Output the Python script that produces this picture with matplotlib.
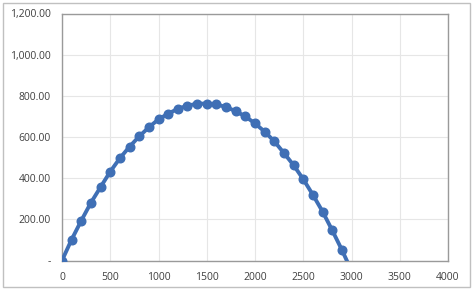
import numpy as np
import matplotlib.pyplot as plt
from matplotlib.patches import Rectangle
from matplotlib.ticker import FuncFormatter

# distance (x) and height (y) of the trajectory
distance = [0, 100, 200, 300, 400, 500, 600, 700, 800, 900, 1000, 1100, 1200, 1300, 1400,
            1500, 1600, 1700, 1800, 1900, 2000, 2100, 2200, 2300, 2400, 2500, 2600, 2700,
            2800, 2900, 3000]
height = [0, 102, 194, 281, 357, 432, 497, 553, 603, 647, 686, 713, 737, 752, 762,
          762, 758, 746, 725, 700, 666, 626, 579, 522, 463, 395, 319, 238,
          147, 52, -50]

x_ticks = [0, 500, 1000, 1500, 2000, 2500, 3000, 3500, 4000]
y_ticks = [0, 200, 400, 600, 800, 1000, 1200]

plt.rcParams['font.family'] = ['Open Sans', 'DejaVu Sans']

fig = plt.figure(figsize=(4.74, 2.90), dpi=100)
fig.patch.set_facecolor('white')

# chart area frame
fig.patches.append(Rectangle((3 / 474, 3 / 290), 467 / 474, 284 / 290, transform=fig.transFigure,
                             fill=False, edgecolor='#c0c0c0', linewidth=1.0))

ax = fig.add_axes([62 / 474, 1 - 260.5 / 290, (448 - 62) / 474, (260.5 - 13.5) / 290])
ax.plot(distance, height, color='#3f6fb5', linewidth=2.8, marker='o', markersize=6.2,
        markerfacecolor='#3f6fb5', markeredgecolor='#3f6fb5', zorder=3)

ax.set_xlim(0, 4000)
ax.set_ylim(0, 1200)
ax.set_xticks(x_ticks)
ax.set_yticks(y_ticks)


def yfmt(v, pos):
    if v == 0:
        return '-'
    return '{:,.2f}'.format(v)


ax.yaxis.set_major_formatter(FuncFormatter(yfmt))
ax.grid(True, color='#e6e6e6', linewidth=0.8)
ax.set_axisbelow(True)

for side in ['left', 'bottom', 'top', 'right']:
    ax.spines[side].set_color('#9a9a9a')
    ax.spines[side].set_linewidth(1.0)

ax.tick_params(axis='both', length=0, labelsize=7.5, colors='#404040')
ax.tick_params(axis='x', pad=8)
ax.tick_params(axis='y', pad=8)

plt.savefig('out.png', dpi=100)
